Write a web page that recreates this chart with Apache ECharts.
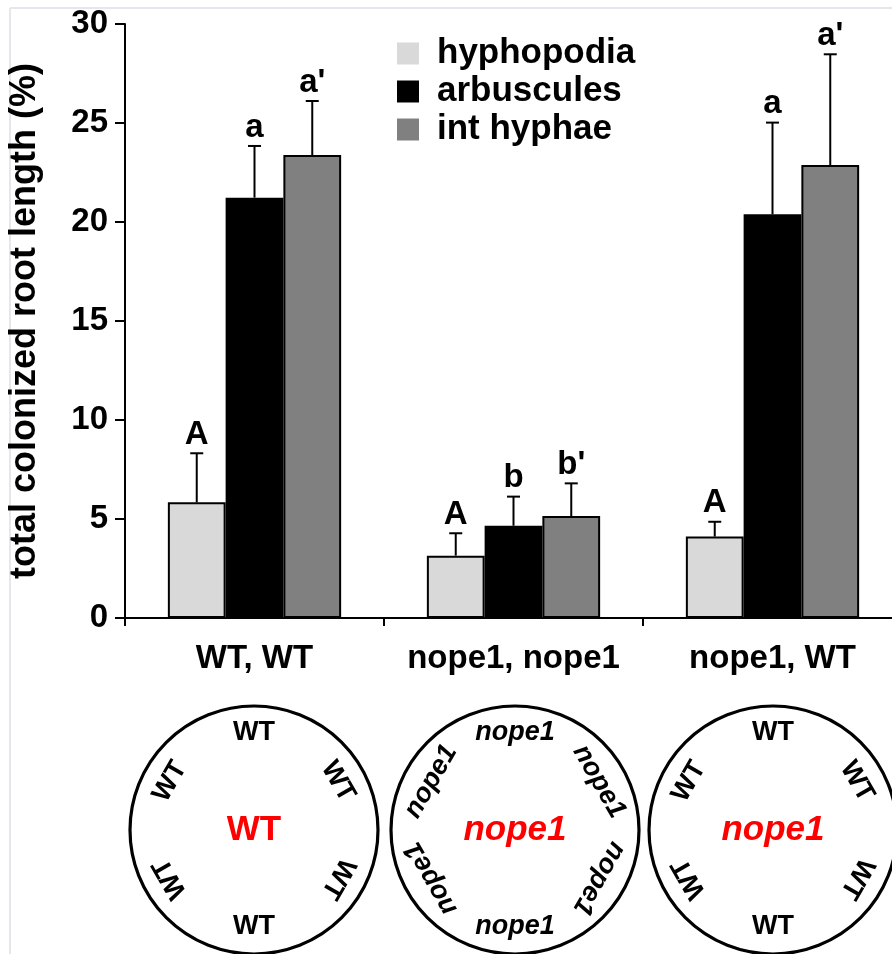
<!DOCTYPE html>
<html>
<head>
<meta charset="utf-8">
<style>
html,body{margin:0;padding:0;background:#fff;}
#chart{width:892px;height:954px;}
</style>
<script src="https://cdn.jsdelivr.net/npm/echarts@6/dist/echarts.min.js"></script>
</head>
<body>
<div id="chart"></div>
<script>
// ---- data ----
const categories = ['WT, WT', 'nope1, nope1', 'nope1, WT'];
const seriesNames = ['hyphopodia', 'arbuscules', 'int hyphae'];
const hyphopodia = [5.84, 3.15, 4.11];
const arbuscules = [21.23, 4.66, 20.39];
const intHyphae = [23.38, 5.15, 22.88];
const hyphopodiaErr = [2.48, 1.13, 0.75];
const arbusculesErr = [2.61, 1.47, 4.63];
const intHyphaeErr = [2.73, 1.65, 5.59];
const hyphopodiaLetters = ['A', 'A', 'A'];
const arbusculesLetters = ['a', 'b', 'a'];
const intHyphaeLetters = ["a'", "b'", "a'"];
const yTicks = [0, 5, 10, 15, 20, 25, 30];
const rootLabels = ['WT', 'nope1', 'nope1'];
const ringLabels = ['WT', 'nope1', 'WT'];

const colors = ['#d9d9d9', '#000000', '#808080'];
const FONT = '"Liberation Sans", Arial, Helvetica, sans-serif';
const BAR_FRAC = 0.223;

const values = [hyphopodia, arbuscules, intHyphae];
const errs = [hyphopodiaErr, arbusculesErr, intHyphaeErr];
const letters = [hyphopodiaLetters, arbusculesLetters, intHyphaeLetters];

const errData = [];
for (let s = 0; s < 3; s++) {
  for (let c = 0; c < categories.length; c++) {
    errData.push([c, s, values[s][c], values[s][c] + errs[s][c]]);
  }
}

function renderErr(params, api) {
  const c = api.value(0), s = api.value(1), v = api.value(2), t = api.value(3);
  const bandW = api.size([1, 0])[0];
  const bw = bandW * BAR_FRAC;
  const p0 = api.coord([c, v]);
  const p1 = api.coord([c, t]);
  const x = p0[0] + (s - 1) * bw;
  const cap = 6.5;
  const lineStyle = { stroke: '#000', lineWidth: 2 };
  return {
    type: 'group',
    children: [
      { type: 'line', shape: { x1: x, y1: p0[1], x2: x, y2: p1[1] }, style: lineStyle },
      { type: 'line', shape: { x1: x - cap, y1: p1[1], x2: x + cap, y2: p1[1] }, style: lineStyle },
      { type: 'text', x: x, y: p1[1] - 2,
        style: { text: letters[s][c], fill: '#000', font: 'bold 33px ' + FONT, align: 'center', verticalAlign: 'bottom' } }
    ]
  };
}

const series = seriesNames.map((name, i) => ({
  name: name,
  type: 'bar',
  data: values[i],
  barWidth: (BAR_FRAC * 100) + '%',
  barGap: '0%',
  itemStyle: { color: colors[i], borderColor: '#000', borderWidth: 2 },
  z: 2
}));
series.push({
  type: 'custom',
  renderItem: renderErr,
  data: errData,
  encode: { x: 0, y: [2, 3] },
  z: 3,
  silent: true
});

// circle diagrams
const circleCenters = [[254, 830], [515, 830], [773, 830]];
const graphics = [
  { type: 'line', shape: { x1: 10, y1: 8, x2: 892, y2: 8 }, style: { stroke: '#e4e7eb', lineWidth: 2 } },
  { type: 'line', shape: { x1: 10, y1: 8, x2: 10, y2: 954 }, style: { stroke: '#e4e7eb', lineWidth: 2 } }
];
circleCenters.forEach((cc, k) => {
  graphics.push({ type: 'circle', shape: { cx: cc[0], cy: cc[1], r: 124 },
    style: { fill: 'none', stroke: '#000', lineWidth: 3.2 } });
  const italicR = rootLabels[k] === 'nope1' ? 'italic ' : '';
  graphics.push({ type: 'text', x: cc[0], y: cc[1],
    style: { text: rootLabels[k], fill: '#ff0000', font: italicR + 'bold 35px ' + FONT, align: 'center', verticalAlign: 'middle' } });
  const italicN = ringLabels[k] === 'nope1' ? 'italic ' : '';
  [0, 60, 120, 180, 240, 300].forEach(a => {
    const rad = a * Math.PI / 180;
    const R = 97;
    graphics.push({ type: 'text',
      x: cc[0] + R * Math.sin(rad), y: cc[1] - R * Math.cos(rad),
      rotation: a === 180 ? 0 : -rad,
      style: { text: ringLabels[k], fill: '#000', font: italicN + 'bold 27px ' + FONT, align: 'center', verticalAlign: 'middle' } });
  });
});

const chart = echarts.init(document.getElementById('chart'), null, { renderer: 'canvas' });
chart.setOption({
  animation: false,
  backgroundColor: '#fff',
  grid: { left: 125, top: 24, bottom: 336, right: -10, containLabel: false, outerBoundsMode: 'none' },
  legend: {
    data: seriesNames,
    orient: 'vertical',
    left: 392, top: 31,
    itemWidth: 22, itemHeight: 22, itemGap: 3,
    icon: 'rect',
    itemStyle: { borderWidth: 0 },
    textStyle: { fontFamily: FONT, fontWeight: 'bold', fontSize: 35, color: '#000', padding: [0, 0, 0, 13] }
  },
  xAxis: {
    type: 'category',
    data: categories,
    axisLine: { lineStyle: { color: '#000', width: 2 } },
    axisTick: { show: true, length: 8, lineStyle: { color: '#000', width: 2 } },
    axisLabel: { interval: 0, hideOverlap: false, color: '#000', fontFamily: FONT, fontWeight: 'bold', fontSize: 33, margin: 24 }
  },
  yAxis: {
    type: 'value',
    min: 0, max: 30, interval: 5,
    name: 'total colonized root length (%)',
    nameLocation: 'middle',
    nameGap: 82,
    nameTextStyle: { color: '#000', fontFamily: FONT, fontWeight: 'bold', fontSize: 36 },
    axisLine: { show: true, lineStyle: { color: '#000', width: 2 } },
    axisTick: { show: true, length: 10, lineStyle: { color: '#000', width: 2 } },
    axisLabel: { color: '#000', fontFamily: FONT, fontWeight: 'bold', fontSize: 33, margin: 17,
      formatter: v => (yTicks.indexOf(v) >= 0 ? String(v) : '') },
    splitLine: { show: false }
  },
  series: series,
  graphic: graphics
});
</script>
</body>
</html>
